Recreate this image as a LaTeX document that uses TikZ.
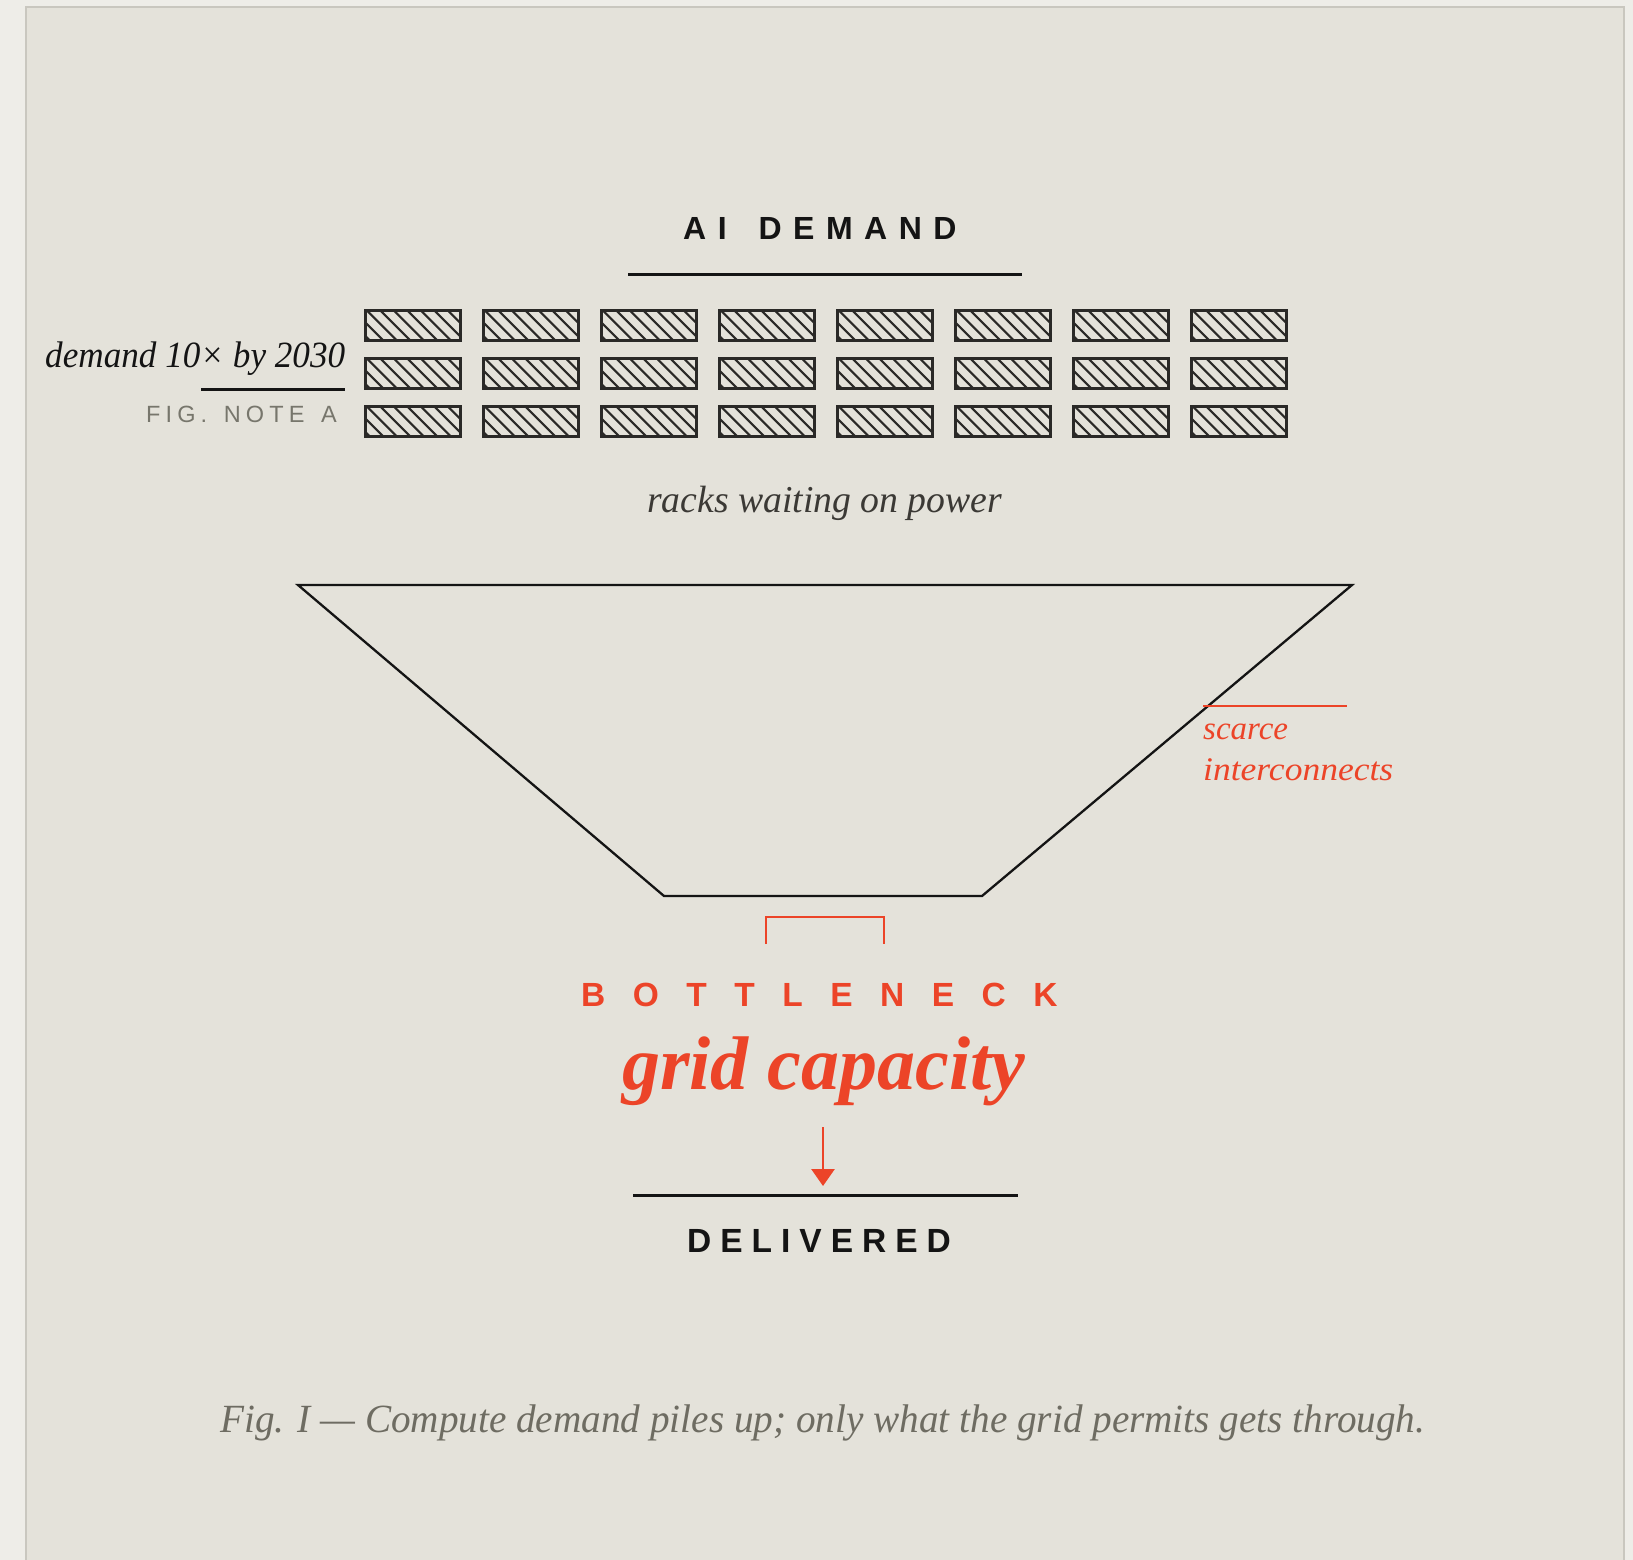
\documentclass[tikz,border=0pt]{standalone}
\usepackage{fontspec}
\setmainfont{Liberation Serif}
\newfontfamily\sansf{Liberation Sans}
\usetikzlibrary{arrows.meta}
\definecolor{bgpanel}{RGB}{228,226,218}
\definecolor{bgout}{RGB}{238,237,232}
\definecolor{panelborder}{RGB}{201,199,191}
\definecolor{redc}{RGB}{236,68,40}
\definecolor{inkc}{RGB}{20,20,20}
\definecolor{graynote}{RGB}{119,118,108}
\definecolor{graycap}{RGB}{110,108,98}
\definecolor{racktext}{RGB}{59,57,53}
\definecolor{rackink}{RGB}{42,41,39}
\makeatletter
\newcommand\spreadout[2]{\def\sp@k{#1}\@tfor\sp@c:=#2\do{\sp@c\kern\sp@k}}
\makeatother
\newcommand\fitw[2]{\resizebox{#1}{\height}{#2}}
\tikzset{
  lbl/.style={inner sep=0pt, anchor=base west},
  rule/.style={line width=3pt, inkc},
  redrule/.style={line width=2.8pt, redc},
  hatch/.style={line width=2pt, rackink},
  rackbox/.style={line width=2.6pt, rackink},
  funnelline/.style={line width=2.3pt, inkc, line join=miter}
}
\begin{document}
\begin{tikzpicture}[x=1pt,y=-1pt]
\useasboundingbox (0,0) rectangle (1633,1560);
\fill[bgout] (0,0) rectangle (1633,1560);
\draw[fill=bgpanel, draw=panelborder, line width=2pt] (26,7) rectangle (1624,1570);

% title
\node[lbl, text=inkc] (aidem) at (683,239) {\sansf\bfseries\fontsize{32}{38}\selectfont\spreadout{11.5pt}{AI~DEMAND}};
\draw[rule] (628,274) -- (1022,274);

% left note
\node[lbl, text=inkc] (demand) at (45,367) {\fitw{300pt}{\itshape\fontsize{37}{44}\selectfont demand 10× by 2030}};
\draw[rule] (201,389) -- (345,389);
\node[lbl, text=graynote] (fignote) at (146,422) {\sansf\fontsize{23.5}{28}\selectfont\spreadout{5.1pt}{FIG.~NOTE~A}};

% racks
\foreach \c in {0,...,7}{
  \foreach \r in {0,1,2}{
    \pgfmathsetmacro\xa{365.3+118*\c}
    \pgfmathsetmacro\ya{310.3+48*\r}
    \begin{scope}
      \clip (\xa,\ya) rectangle ++(95.4,30.4);
      \foreach \k in {-3,...,7}{
        \draw[hatch] (\xa+1.4+13.5*\k,\ya) -- ++(33,33);
      }
    \end{scope}
    \draw[rackbox] (\xa,\ya) rectangle ++(95.4,30.4);
  }
}

\node[lbl, text=racktext] (racks) at (647,512) {\fitw{355pt}{\itshape\fontsize{38}{46}\selectfont racks waiting on power}};

% funnel
\coordinate (ftl) at (298,585);
\coordinate (ftr) at (1352,585);
\coordinate (fbr) at (982,896);
\coordinate (fbl) at (664,896);
\draw[funnelline] (ftl) -- (ftr) -- (fbr) -- (fbl) -- cycle;

% scarce interconnects
\draw[redrule] (1203,706) -- (1347,706);
\node[lbl, text=redc] (scarce) at (1203,739) {\itshape\fontsize{33}{40}\selectfont scarce};
\node[lbl, text=redc] (inter) at (1203,780) {\fitw{190pt}{\itshape\fontsize{33}{40}\selectfont interconnects}};

% bracket
\draw[redrule] (766,944) -- (766,917) -- (884,917) -- (884,944);

% bottleneck
\node[lbl, text=redc] (bneck) at (581,1006) {\sansf\bfseries\fontsize{33.5}{40}\selectfont\spreadout{27.5pt}{BOTTLENECK}};
\node[lbl, text=redc] (grid) at (622,1089) {\fitw{403pt}{\bfseries\itshape\fontsize{76}{90}\selectfont grid capacity}};

% arrow
\coordinate (atop) at (823,1127);
\coordinate (abot) at (823,1186);
\draw[redc, line width=2.8pt, -{Triangle[width=23pt,length=17pt]}] (atop) -- (abot);
\draw[rule] (633,1195) -- (1018,1195);
\node[lbl, text=inkc] (deliv) at (687,1252) {\sansf\bfseries\fontsize{33.5}{40}\selectfont\spreadout{9pt}{DELIVERED}};

% caption
\node[lbl, text=graycap] (cap) at (220,1432) {\fitw{1205pt}{\itshape\fontsize{40}{48}\selectfont Fig. I — Compute demand piles up; only what the grid permits gets through.}};
\end{tikzpicture}
\end{document}
